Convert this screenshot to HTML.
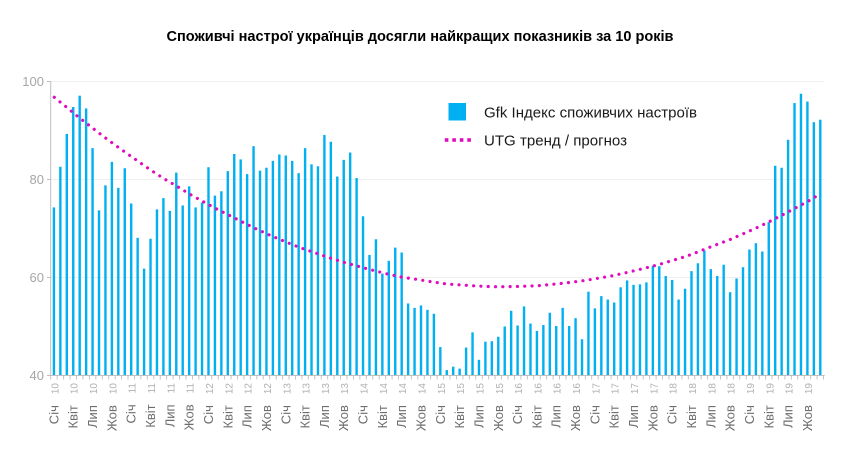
<!DOCTYPE html>
<html>
<head>
<meta charset="utf-8">
<style>
  html, body { margin:0; padding:0; background:#ffffff; }
  body { width:862px; height:455px; overflow:hidden; }
  svg { display:block; }
  .yl { font-family:"Liberation Sans", Arial, sans-serif; font-size:13px; fill:#a6a6a6; }
  .xl { font-family:"Liberation Sans", Arial, sans-serif; font-size:13px; fill:#6e6e6e; }
  .xl tspan.yr { fill:#b0b0b0; font-size:10px; }
  .lg { font-family:"Liberation Sans", Arial, sans-serif; font-size:15px; fill:#1a1a1a; }
  .tt { font-family:"Liberation Sans", Arial, sans-serif; font-size:14.5px; font-weight:bold; fill:#000; }
</style>
</head>
<body>
<svg width="862" height="455" viewBox="0 0 862 455" xmlns="http://www.w3.org/2000/svg">
  <rect x="0" y="0" width="862" height="455" fill="#ffffff"/>

  <!-- Title -->
  <text class="tt" x="420" y="41" text-anchor="middle" textLength="507" lengthAdjust="spacingAndGlyphs">Споживчі настрої українців досягли найкращих показників за 10 років</text>

  <!-- gridlines -->
  <g stroke="#efefef" stroke-width="1">
    <line x1="51" y1="81.5" x2="824.7" y2="81.5"/>
    <line x1="51" y1="179.5" x2="824.7" y2="179.5"/>
    <line x1="51" y1="277.5" x2="824.7" y2="277.5"/>
  </g>

  <!-- y labels -->
  <text class="yl" x="44" y="86" text-anchor="end">100</text>
  <text class="yl" x="44" y="184" text-anchor="end">80</text>
  <text class="yl" x="44" y="282" text-anchor="end">60</text>
  <text class="yl" x="44" y="380" text-anchor="end">40</text>

  <!-- bars -->
  <g transform="translate(50.7,375) scale(6.44,-4.9)" fill="#00b0f0">
    <rect x="0.314" y="0" width="0.373" height="34.2"/>
    <rect x="1.314" y="0" width="0.373" height="42.5"/>
    <rect x="2.314" y="0" width="0.373" height="49.2"/>
    <rect x="3.314" y="0" width="0.373" height="54.7"/>
    <rect x="4.314" y="0" width="0.373" height="57.0"/>
    <rect x="5.314" y="0" width="0.373" height="54.4"/>
    <rect x="6.314" y="0" width="0.373" height="46.3"/>
    <rect x="7.314" y="0" width="0.373" height="33.6"/>
    <rect x="8.314" y="0" width="0.373" height="38.7"/>
    <rect x="9.314" y="0" width="0.373" height="43.5"/>
    <rect x="10.314" y="0" width="0.373" height="38.2"/>
    <rect x="11.314" y="0" width="0.373" height="42.2"/>
    <rect x="12.314" y="0" width="0.373" height="35.0"/>
    <rect x="13.314" y="0" width="0.373" height="28.0"/>
    <rect x="14.314" y="0" width="0.373" height="21.7"/>
    <rect x="15.314" y="0" width="0.373" height="27.8"/>
    <rect x="16.314" y="0" width="0.373" height="33.8"/>
    <rect x="17.314" y="0" width="0.373" height="36.1"/>
    <rect x="18.314" y="0" width="0.373" height="33.5"/>
    <rect x="19.314" y="0" width="0.373" height="41.3"/>
    <rect x="20.314" y="0" width="0.373" height="34.6"/>
    <rect x="21.314" y="0" width="0.373" height="38.5"/>
    <rect x="22.314" y="0" width="0.373" height="34.2"/>
    <rect x="23.314" y="0" width="0.373" height="35.2"/>
    <rect x="24.314" y="0" width="0.373" height="42.4"/>
    <rect x="25.314" y="0" width="0.373" height="36.6"/>
    <rect x="26.314" y="0" width="0.373" height="37.5"/>
    <rect x="27.314" y="0" width="0.373" height="41.6"/>
    <rect x="28.314" y="0" width="0.373" height="45.1"/>
    <rect x="29.314" y="0" width="0.373" height="44.0"/>
    <rect x="30.314" y="0" width="0.373" height="41.0"/>
    <rect x="31.314" y="0" width="0.373" height="46.7"/>
    <rect x="32.314" y="0" width="0.373" height="41.7"/>
    <rect x="33.314" y="0" width="0.373" height="42.3"/>
    <rect x="34.314" y="0" width="0.373" height="43.7"/>
    <rect x="35.314" y="0" width="0.373" height="45.0"/>
    <rect x="36.314" y="0" width="0.373" height="44.8"/>
    <rect x="37.314" y="0" width="0.373" height="43.7"/>
    <rect x="38.314" y="0" width="0.373" height="41.2"/>
    <rect x="39.314" y="0" width="0.373" height="46.3"/>
    <rect x="40.314" y="0" width="0.373" height="43.0"/>
    <rect x="41.314" y="0" width="0.373" height="42.6"/>
    <rect x="42.314" y="0" width="0.373" height="49.0"/>
    <rect x="43.314" y="0" width="0.373" height="47.6"/>
    <rect x="44.314" y="0" width="0.373" height="40.5"/>
    <rect x="45.314" y="0" width="0.373" height="43.9"/>
    <rect x="46.314" y="0" width="0.373" height="45.4"/>
    <rect x="47.314" y="0" width="0.373" height="40.2"/>
    <rect x="48.314" y="0" width="0.373" height="32.4"/>
    <rect x="49.314" y="0" width="0.373" height="24.5"/>
    <rect x="50.314" y="0" width="0.373" height="27.7"/>
    <rect x="51.314" y="0" width="0.373" height="20.7"/>
    <rect x="52.314" y="0" width="0.373" height="23.3"/>
    <rect x="53.314" y="0" width="0.373" height="26.0"/>
    <rect x="54.314" y="0" width="0.373" height="25.0"/>
    <rect x="55.314" y="0" width="0.373" height="14.6"/>
    <rect x="56.314" y="0" width="0.373" height="13.7"/>
    <rect x="57.314" y="0" width="0.373" height="14.2"/>
    <rect x="58.314" y="0" width="0.373" height="13.3"/>
    <rect x="59.314" y="0" width="0.373" height="12.5"/>
    <rect x="60.314" y="0" width="0.373" height="5.7"/>
    <rect x="61.314" y="0" width="0.373" height="1.0"/>
    <rect x="62.314" y="0" width="0.373" height="1.7"/>
    <rect x="63.314" y="0" width="0.373" height="1.3"/>
    <rect x="64.314" y="0" width="0.373" height="5.6"/>
    <rect x="65.314" y="0" width="0.373" height="8.7"/>
    <rect x="66.314" y="0" width="0.373" height="3.1"/>
    <rect x="67.314" y="0" width="0.373" height="6.8"/>
    <rect x="68.314" y="0" width="0.373" height="6.9"/>
    <rect x="69.314" y="0" width="0.373" height="7.8"/>
    <rect x="70.314" y="0" width="0.373" height="9.9"/>
    <rect x="71.314" y="0" width="0.373" height="13.1"/>
    <rect x="72.314" y="0" width="0.373" height="10.1"/>
    <rect x="73.314" y="0" width="0.373" height="14.0"/>
    <rect x="74.314" y="0" width="0.373" height="10.5"/>
    <rect x="75.314" y="0" width="0.373" height="9.0"/>
    <rect x="76.314" y="0" width="0.373" height="10.2"/>
    <rect x="77.314" y="0" width="0.373" height="12.7"/>
    <rect x="78.314" y="0" width="0.373" height="10.0"/>
    <rect x="79.314" y="0" width="0.373" height="13.7"/>
    <rect x="80.314" y="0" width="0.373" height="10.0"/>
    <rect x="81.314" y="0" width="0.373" height="11.6"/>
    <rect x="82.314" y="0" width="0.373" height="7.3"/>
    <rect x="83.314" y="0" width="0.373" height="17.0"/>
    <rect x="84.314" y="0" width="0.373" height="13.6"/>
    <rect x="85.314" y="0" width="0.373" height="16.1"/>
    <rect x="86.314" y="0" width="0.373" height="15.4"/>
    <rect x="87.314" y="0" width="0.373" height="14.8"/>
    <rect x="88.314" y="0" width="0.373" height="17.9"/>
    <rect x="89.314" y="0" width="0.373" height="19.3"/>
    <rect x="90.314" y="0" width="0.373" height="18.4"/>
    <rect x="91.314" y="0" width="0.373" height="18.5"/>
    <rect x="92.314" y="0" width="0.373" height="18.9"/>
    <rect x="93.314" y="0" width="0.373" height="22.3"/>
    <rect x="94.314" y="0" width="0.373" height="22.2"/>
    <rect x="95.314" y="0" width="0.373" height="20.2"/>
    <rect x="96.314" y="0" width="0.373" height="19.4"/>
    <rect x="97.314" y="0" width="0.373" height="15.4"/>
    <rect x="98.314" y="0" width="0.373" height="17.6"/>
    <rect x="99.314" y="0" width="0.373" height="21.2"/>
    <rect x="100.314" y="0" width="0.373" height="22.8"/>
    <rect x="101.314" y="0" width="0.373" height="25.4"/>
    <rect x="102.314" y="0" width="0.373" height="21.6"/>
    <rect x="103.314" y="0" width="0.373" height="20.2"/>
    <rect x="104.314" y="0" width="0.373" height="22.5"/>
    <rect x="105.314" y="0" width="0.373" height="16.9"/>
    <rect x="106.314" y="0" width="0.373" height="19.7"/>
    <rect x="107.314" y="0" width="0.373" height="22.0"/>
    <rect x="108.314" y="0" width="0.373" height="25.6"/>
    <rect x="109.314" y="0" width="0.373" height="26.9"/>
    <rect x="110.314" y="0" width="0.373" height="25.2"/>
    <rect x="111.314" y="0" width="0.373" height="31.2"/>
    <rect x="112.314" y="0" width="0.373" height="42.7"/>
    <rect x="113.314" y="0" width="0.373" height="42.3"/>
    <rect x="114.314" y="0" width="0.373" height="48.0"/>
    <rect x="115.314" y="0" width="0.373" height="55.5"/>
    <rect x="116.314" y="0" width="0.373" height="57.4"/>
    <rect x="117.314" y="0" width="0.373" height="55.8"/>
    <rect x="118.314" y="0" width="0.373" height="51.6"/>
    <rect x="119.314" y="0" width="0.373" height="52.1"/>
  </g>

  <!-- axes -->
  <line x1="50.7" y1="81" x2="50.7" y2="375.5" stroke="#bfbfbf" stroke-width="1"/>
  <line x1="47" y1="81.5" x2="50.7" y2="81.5" stroke="#bfbfbf" stroke-width="1"/>
  <line x1="47" y1="179.5" x2="50.7" y2="179.5" stroke="#bfbfbf" stroke-width="1"/>
  <line x1="47" y1="277.5" x2="50.7" y2="277.5" stroke="#bfbfbf" stroke-width="1"/>
  <line x1="47" y1="375.5" x2="50.7" y2="375.5" stroke="#bfbfbf" stroke-width="1"/>
  <line x1="50.7" y1="375.5" x2="824.7" y2="375.5" stroke="#bfbfbf" stroke-width="1"/>
  <line x1="50.3" y1="377.5" x2="825.5" y2="377.5" stroke="#bfbfbf" stroke-width="4" stroke-dasharray="0.9 5.54"/>

  <!-- trend -->
  <path d="M54.3,97.3 L66.3,107 L78,116.7 L90,126 L102,135.3 L114,144.3 L126.3,153 L138.7,161.7 L151,170.3 L164,178.7 L177,186.3 L190,194.3 L203.3,201.7 L216.7,209 L230,215.7 L243.7,222.7 L257,229.3 L271,235.7 L285.3,241.7 L299,247.3 L313.7,252.3 L328,257.3 L342.7,262 L357,266 L371.7,270 L386.3,273.7 L401,277 L416.3,279.3 L431.3,281.7 L446.7,284 L461.7,285 L476.7,286 L492,286.7 L507,286.7 L522.3,286.3 L537.7,285.7 L552.7,284.3 L568,282.7 L583,280.7 L598,278.3 L612.7,275.7 L627.7,272.3 L642.7,268.7 L657.3,265 L671.7,260.7 L686.3,256.3 L700.3,251 L714.7,245.3 L729,240 L742.7,234 L756.3,228 L770,221.3 L783.7,214.3 L797.3,207 L810.3,200 L816.7,196"
        fill="none" stroke="#e20cbf" stroke-width="3.2" stroke-linecap="round" stroke-linejoin="round" stroke-dasharray="0.01 7.3"/>

  <!-- legend -->
  <rect x="448.5" y="103" width="17.5" height="17.5" fill="#00b0f0"/>
  <text class="lg" x="484" y="117.5" textLength="213" lengthAdjust="spacingAndGlyphs">Gfk Індекс споживчих настроїв</text>
  <g fill="#e20cbf">
    <rect x="444.8" y="138.2" width="3.6" height="3.6"/>
    <rect x="452.3" y="138.2" width="3.6" height="3.6"/>
    <rect x="459.8" y="138.2" width="3.6" height="3.6"/>
    <rect x="467.3" y="138.2" width="3.6" height="3.6"/>
  </g>
  <text class="lg" x="484" y="145.5" textLength="143" lengthAdjust="spacingAndGlyphs">UTG тренд / прогноз</text>

  <!-- x labels -->
  <g class="xl" text-anchor="end">
    <text transform="translate(58.4,383) rotate(-90)">Січ<tspan class="yr" dx="11">10</tspan></text>
    <text transform="translate(77.7,383) rotate(-90)">Квіт<tspan class="yr" dx="11">10</tspan></text>
    <text transform="translate(97.1,383) rotate(-90)">Лип<tspan class="yr" dx="11">10</tspan></text>
    <text transform="translate(116.4,383) rotate(-90)">Жов<tspan class="yr" dx="11">10</tspan></text>
    <text transform="translate(135.7,383) rotate(-90)">Січ<tspan class="yr" dx="11">11</tspan></text>
    <text transform="translate(155.0,383) rotate(-90)">Квіт<tspan class="yr" dx="11">11</tspan></text>
    <text transform="translate(174.3,383) rotate(-90)">Лип<tspan class="yr" dx="11">11</tspan></text>
    <text transform="translate(193.7,383) rotate(-90)">Жов<tspan class="yr" dx="11">11</tspan></text>
    <text transform="translate(213.0,383) rotate(-90)">Січ<tspan class="yr" dx="11">12</tspan></text>
    <text transform="translate(232.3,383) rotate(-90)">Квіт<tspan class="yr" dx="11">12</tspan></text>
    <text transform="translate(251.6,383) rotate(-90)">Лип<tspan class="yr" dx="11">12</tspan></text>
    <text transform="translate(270.9,383) rotate(-90)">Жов<tspan class="yr" dx="11">12</tspan></text>
    <text transform="translate(290.3,383) rotate(-90)">Січ<tspan class="yr" dx="11">13</tspan></text>
    <text transform="translate(309.6,383) rotate(-90)">Квіт<tspan class="yr" dx="11">13</tspan></text>
    <text transform="translate(328.9,383) rotate(-90)">Лип<tspan class="yr" dx="11">13</tspan></text>
    <text transform="translate(348.2,383) rotate(-90)">Жов<tspan class="yr" dx="11">13</tspan></text>
    <text transform="translate(367.5,383) rotate(-90)">Січ<tspan class="yr" dx="11">14</tspan></text>
    <text transform="translate(386.9,383) rotate(-90)">Квіт<tspan class="yr" dx="11">14</tspan></text>
    <text transform="translate(406.2,383) rotate(-90)">Лип<tspan class="yr" dx="11">14</tspan></text>
    <text transform="translate(425.5,383) rotate(-90)">Жов<tspan class="yr" dx="11">14</tspan></text>
    <text transform="translate(444.8,383) rotate(-90)">Січ<tspan class="yr" dx="11">15</tspan></text>
    <text transform="translate(464.1,383) rotate(-90)">Квіт<tspan class="yr" dx="11">15</tspan></text>
    <text transform="translate(483.5,383) rotate(-90)">Лип<tspan class="yr" dx="11">15</tspan></text>
    <text transform="translate(502.8,383) rotate(-90)">Жов<tspan class="yr" dx="11">15</tspan></text>
    <text transform="translate(522.1,383) rotate(-90)">Січ<tspan class="yr" dx="11">16</tspan></text>
    <text transform="translate(541.4,383) rotate(-90)">Квіт<tspan class="yr" dx="11">16</tspan></text>
    <text transform="translate(560.7,383) rotate(-90)">Лип<tspan class="yr" dx="11">16</tspan></text>
    <text transform="translate(580.1,383) rotate(-90)">Жов<tspan class="yr" dx="11">16</tspan></text>
    <text transform="translate(599.4,383) rotate(-90)">Січ<tspan class="yr" dx="11">17</tspan></text>
    <text transform="translate(618.7,383) rotate(-90)">Квіт<tspan class="yr" dx="11">17</tspan></text>
    <text transform="translate(638.0,383) rotate(-90)">Лип<tspan class="yr" dx="11">17</tspan></text>
    <text transform="translate(657.3,383) rotate(-90)">Жов<tspan class="yr" dx="11">17</tspan></text>
    <text transform="translate(676.7,383) rotate(-90)">Січ<tspan class="yr" dx="11">18</tspan></text>
    <text transform="translate(696.0,383) rotate(-90)">Квіт<tspan class="yr" dx="11">18</tspan></text>
    <text transform="translate(715.3,383) rotate(-90)">Лип<tspan class="yr" dx="11">18</tspan></text>
    <text transform="translate(734.6,383) rotate(-90)">Жов<tspan class="yr" dx="11">18</tspan></text>
    <text transform="translate(753.9,383) rotate(-90)">Січ<tspan class="yr" dx="11">19</tspan></text>
    <text transform="translate(773.3,383) rotate(-90)">Квіт<tspan class="yr" dx="11">19</tspan></text>
    <text transform="translate(792.6,383) rotate(-90)">Лип<tspan class="yr" dx="11">19</tspan></text>
    <text transform="translate(811.9,383) rotate(-90)">Жов<tspan class="yr" dx="11">19</tspan></text>
  </g>
</svg>
</body>
</html>
